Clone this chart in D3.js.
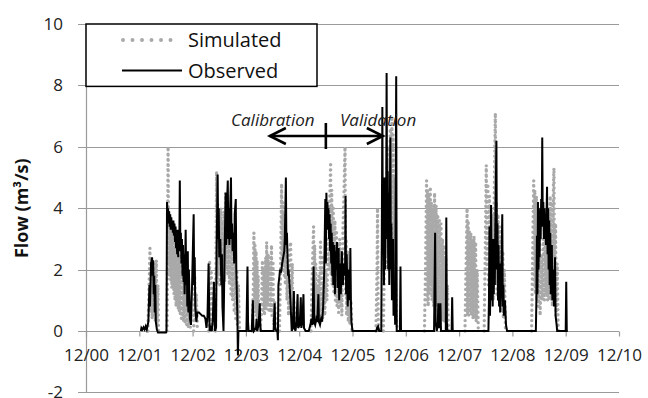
<!DOCTYPE html>
<html>
<head>
<meta charset="utf-8">
<script src="https://cdn.jsdelivr.net/npm/d3@7"></script>
<style>
  html, body { margin: 0; padding: 0; background: #fff; }
  svg { display: block; }
  text { font-family: "Open Sans", "Noto Sans", sans-serif; }
</style>
</head>
<body>
<svg id="chart" width="648" height="398"></svg>
<script>
// ---- data (x: years after 12/00, y: flow m3/s) ----
const tickLabels = ["12/00","12/01","12/02","12/03","12/04","12/05","12/06","12/07","12/08","12/09","12/10"];
const yTicks = [-2, 0, 2, 4, 6, 8, 10];
const seriesNames = ["Simulated", "Observed"];
const splitYear = 4.5;
const periodLabels = ["Calibration", "Validation"];

const simulated = [
  [1.16,0],[1.18,1.2],[1.20,2.7],[1.21,0.6],[1.23,2.1],[1.24,0.4],[1.26,2.3],[1.27,0.5],[1.29,2.2],[1.30,0.3],[1.32,2.3],[1.33,0.2],[1.35,1.5],[1.36,0],[1.37,null],
  [1.52,0],[1.54,6.0],[1.55,2.2],[1.56,3.8],[1.57,1.8],[1.58,3.6],[1.59,1.6],[1.60,3.5],[1.61,1.4],[1.62,3.3],[1.63,1.5],[1.64,3.2],[1.65,1.2],[1.66,3.0],[1.67,1.0],[1.68,3.1],[1.69,0.8],[1.70,2.9],[1.71,0.9],[1.72,2.6],[1.73,0.7],[1.74,2.4],[1.75,0.6],[1.76,2.5],[1.77,0.5],[1.78,2.2],[1.79,0.4],[1.80,2.0],[1.81,0.4],[1.82,1.9],[1.83,0.3],[1.84,1.8],[1.86,0.3],[1.87,1.6],[1.89,0.2],[1.90,1.4],[1.92,0.1],[1.94,0.9],[1.96,0],[1.97,null],
  [2.02,0],[2.04,1.8],[2.05,0.3],[2.07,1.2],[2.09,0],[2.10,null],
  [2.30,0],[2.32,2.3],[2.33,0.2],[2.35,1.9],[2.37,0],[2.38,null],
  [2.43,0],[2.45,5.2],[2.46,1.5],[2.47,4.2],[2.48,1.8],[2.50,3.8],[2.51,1.5],[2.53,4.0],[2.54,1.8],[2.56,3.6],[2.57,1.4],[2.59,3.9],[2.60,1.6],[2.62,4.5],[2.63,2.0],[2.65,4.0],[2.66,1.8],[2.68,3.7],[2.69,1.5],[2.71,3.5],[2.72,1.2],[2.74,3.2],[2.75,1.0],[2.77,2.8],[2.78,0.6],[2.80,2.5],[2.81,0.4],[2.83,2.0],[2.84,0.2],[2.86,1.5],[2.88,0],[2.89,null],
  [3.12,0],[3.14,1.5],[3.15,3.2],[3.16,0.8],[3.17,2.8],[3.18,0.6],[3.19,2.6],[3.20,0.5],[3.21,2.3],[3.22,0.4],[3.23,1.8],[3.24,0.2],[3.26,0],[3.29,0.5],[3.31,2.3],[3.32,0.6],[3.34,2.0],[3.35,0.5],[3.37,2.4],[3.38,0.7],[3.39,2.9],[3.40,0.8],[3.42,2.5],[3.43,0.6],[3.45,2.2],[3.46,0.6],[3.48,2.8],[3.49,0.5],[3.51,2.2],[3.52,0.2],[3.54,1.0],[3.56,0],[3.57,null],
  [3.63,0],[3.65,2.0],[3.67,4.8],[3.68,2.0],[3.69,4.2],[3.70,2.2],[3.71,3.8],[3.72,1.8],[3.73,3.4],[3.74,1.5],[3.76,3.0],[3.77,1.0],[3.79,2.2],[3.80,0.5],[3.82,2.6],[3.84,2.9],[3.85,0.8],[3.87,2.2],[3.88,0.3],[3.90,1.0],[3.92,0],[3.93,null],
  [4.22,0],[4.24,1.5],[4.26,2.8],[4.27,3.4],[4.28,0.8],[4.29,2.8],[4.30,0.5],[4.31,2.2],[4.32,0.3],[4.33,1.5],[4.35,0.3],[4.37,1.8],[4.38,0.5],[4.40,2.9],[4.41,0.7],[4.43,2.4],[4.44,0.4],[4.46,1.6],[4.48,0.5],[4.50,2.0],[4.52,1.0],[4.54,3.0],[4.56,2.0],[4.57,4.0],[4.59,5.5],[4.60,1.8],[4.61,4.6],[4.62,1.5],[4.64,4.0],[4.65,1.2],[4.67,3.6],[4.68,1.0],[4.70,3.2],[4.71,0.8],[4.73,2.8],[4.74,0.6],[4.76,3.0],[4.77,0.8],[4.79,2.6],[4.80,0.5],[4.82,3.2],[4.84,4.5],[4.86,6.0],[4.87,1.2],[4.88,3.0],[4.89,0.5],[4.91,2.6],[4.92,0.3],[4.94,1.8],[4.95,0.2],[4.97,1.0],[4.99,0],[5.00,null],
  [5.44,0],[5.46,2.0],[5.47,4.0],[5.48,0.5],[5.49,0],[5.50,null],
  [5.58,0],[5.60,2.5],[5.62,4.0],[5.63,2.0],[5.65,5.5],[5.66,2.5],[5.68,6.0],[5.69,3.0],[5.71,6.6],[5.72,3.5],[5.74,7.0],[5.75,3.0],[5.76,6.4],[5.77,2.0],[5.78,5.0],[5.79,1.0],[5.80,3.0],[5.82,0.5],[5.84,0],[5.85,null],
  [6.35,0],[6.37,2.0],[6.39,4.9],[6.40,1.0],[6.41,4.6],[6.42,0.8],[6.43,4.4],[6.44,1.2],[6.46,4.7],[6.47,1.5],[6.48,4.2],[6.49,1.0],[6.51,4.0],[6.52,0.8],[6.54,4.5],[6.55,1.2],[6.57,4.1],[6.58,0.8],[6.60,3.8],[6.61,0.6],[6.63,3.6],[6.64,0.5],[6.66,3.5],[6.67,0.4],[6.69,3.0],[6.70,0.3],[6.72,2.8],[6.73,0.3],[6.75,2.4],[6.76,0.2],[6.78,1.5],[6.80,0],[6.81,null],
  [7.11,0],[7.13,2.0],[7.15,4.0],[7.16,0.5],[7.17,3.6],[7.18,0.5],[7.19,3.3],[7.20,0.6],[7.22,3.2],[7.23,0.5],[7.25,3.0],[7.26,0.4],[7.28,3.1],[7.29,0.4],[7.31,2.9],[7.32,0.3],[7.34,2.0],[7.36,0],[7.37,null],
  [7.47,0],[7.49,2.5],[7.51,5.4],[7.52,2.0],[7.54,4.8],[7.55,1.5],[7.57,4.4],[7.58,1.2],[7.60,4.0],[7.61,1.0],[7.63,3.8],[7.64,1.0],[7.66,4.5],[7.68,7.1],[7.69,1.5],[7.70,4.2],[7.71,1.2],[7.73,3.8],[7.74,1.0],[7.76,3.4],[7.77,0.8],[7.79,3.0],[7.80,0.6],[7.82,2.6],[7.83,0.4],[7.85,2.0],[7.87,0],[7.88,null],
  [8.36,0],[8.38,2.5],[8.40,4.9],[8.41,1.5],[8.42,4.6],[8.43,1.2],[8.45,4.4],[8.46,1.0],[8.48,4.0],[8.49,0.8],[8.51,3.5],[8.52,0.5],[8.54,2.5],[8.56,1.0],[8.58,3.0],[8.60,1.0],[8.62,3.5],[8.63,1.2],[8.65,3.8],[8.66,1.0],[8.68,4.0],[8.69,1.0],[8.71,4.4],[8.72,1.0],[8.74,4.2],[8.75,0.8],[8.77,4.8],[8.78,5.3],[8.79,1.0],[8.81,3.5],[8.82,0.5],[8.84,2.2],[8.86,0]
];

const observed = [
  [1.03,0],[1.04,0.1],[1.06,0.05],[1.08,0.12],[1.10,0.05],[1.12,0.15],[1.14,0.05],[1.17,0.3],[1.19,1.5],[1.20,0.8],[1.22,2.2],[1.24,2.4],[1.25,1.8],[1.26,2.3],[1.27,1.2],[1.28,1.8],[1.29,0.6],[1.30,1.5],[1.31,0.3],[1.33,0.05],[1.35,-0.05],[1.50,-0.05],[1.51,0],
  [1.52,4.2],[1.53,3.7],[1.54,4.0],[1.55,3.5],[1.56,3.9],[1.57,3.4],[1.58,3.8],[1.59,3.3],[1.60,3.7],[1.61,3.4],[1.62,3.6],[1.63,3.2],[1.64,3.6],[1.65,3.1],[1.66,3.5],[1.67,2.9],[1.68,3.4],[1.69,2.7],[1.70,3.2],[1.71,2.5],[1.72,3.3],[1.73,2.4],[1.74,3.0],[1.75,2.6],[1.76,4.9],[1.77,2.8],[1.78,3.2],[1.79,2.2],[1.80,3.0],[1.81,1.8],[1.82,2.8],[1.83,1.6],[1.84,2.5],[1.85,1.2],[1.87,3.3],[1.88,1.5],[1.89,2.5],[1.90,0.8],[1.91,2.6],[1.92,0.6],[1.93,2.0],[1.95,0.4],[1.97,0.2],[1.99,1.5],[2.02,3.8],[2.03,1.5],[2.04,2.4],[2.05,0.8],[2.07,0.3],[2.09,0.6],[2.12,0.6],[2.15,0.55],[2.18,0.5],[2.21,0.5],[2.24,0.4],[2.26,0.1],[2.28,0.5],[2.30,2.2],[2.31,0.8],[2.32,0],[2.34,0.1],[2.36,0],[2.38,0.4],[2.40,1.6],[2.41,0.5],[2.42,0],[2.44,0.1],[2.45,2.5],[2.47,5.1],[2.48,3.0],[2.49,4.0],[2.50,2.4],[2.52,3.0],[2.54,1.5],[2.55,2.5],[2.56,0.8],[2.58,0],[2.60,2.5],[2.62,4.5],[2.63,2.8],[2.64,3.8],[2.66,4.9],[2.67,3.0],[2.68,4.0],[2.69,2.8],[2.70,3.6],[2.72,5.0],[2.73,3.0],[2.74,3.5],[2.75,2.6],[2.77,3.2],[2.78,2.2],[2.79,3.8],[2.81,4.3],[2.82,2.0],[2.83,1.2],[2.84,0.5],[2.85,-0.8],[2.86,0],
  [3.01,0],[3.03,2.1],[3.04,0.3],[3.05,0],[3.11,0],[3.13,1.0],[3.14,0.2],[3.15,0],[3.19,0.1],[3.20,0.4],[3.21,0],[3.24,0.2],[3.26,0.9],[3.27,0.2],[3.28,0],[3.52,0],[3.54,0.9],[3.55,0.1],[3.57,0],[3.59,0],[3.60,-0.3],[3.61,1.5],[3.63,1.8],[3.64,2.0],[3.66,1.9],[3.68,2.2],[3.70,2.4],[3.72,2.6],[3.73,3.0],[3.75,5.0],[3.76,2.8],[3.77,3.2],[3.78,2.5],[3.79,1.8],[3.80,2.0],[3.82,1.5],[3.84,0.8],[3.86,0],[3.88,0.1],[3.90,1.3],[3.91,0.1],[3.93,0],[3.95,0.3],[3.97,1.2],[3.98,0.1],[4.01,0.2],[4.03,1.1],[4.04,0.1],[4.06,0.3],[4.08,1.2],[4.09,0.1],[4.12,0],
  [4.18,0],[4.21,0.2],[4.23,0.4],[4.25,0.2],[4.27,2.1],[4.28,0.3],[4.30,0.2],[4.32,0.4],[4.34,0.3],[4.36,1.2],[4.37,0.3],[4.39,0.2],[4.41,0.4],[4.43,0.3],[4.45,0.8],[4.47,2.0],[4.49,4.3],[4.50,2.2],[4.51,4.5],[4.52,3.6],[4.53,4.2],[4.54,3.3],[4.55,4.0],[4.56,3.0],[4.57,3.8],[4.58,2.6],[4.59,3.5],[4.60,2.2],[4.61,3.2],[4.62,1.8],[4.63,2.9],[4.64,1.5],[4.66,2.8],[4.67,1.2],[4.68,2.6],[4.69,2.0],[4.71,2.9],[4.72,1.4],[4.74,2.7],[4.75,1.0],[4.76,2.2],[4.78,1.2],[4.80,2.6],[4.82,1.5],[4.84,2.2],[4.86,1.8],[4.87,4.4],[4.88,1.2],[4.89,2.5],[4.91,0.8],[4.93,2.0],[4.95,1.0],[4.96,2.7],[4.97,1.0],[4.98,0.3],[5.00,0],
  [5.45,0],[5.46,0.1],[5.48,0.15],[5.50,0],[5.54,0],[5.55,3.0],[5.56,7.3],[5.57,2.5],[5.58,4.5],[5.59,1.5],[5.60,5.0],[5.61,2.0],[5.62,4.0],[5.63,3.0],[5.64,8.4],[5.65,3.0],[5.66,5.2],[5.67,2.0],[5.68,4.5],[5.69,1.5],[5.71,6.3],[5.72,2.0],[5.73,3.5],[5.74,1.0],[5.76,3.0],[5.77,0.5],[5.79,1.5],[5.80,0.2],[5.82,8.3],[5.83,0],[5.89,0],[5.90,2.1],[5.91,0],
  [6.53,0],[6.55,3.2],[6.56,0.3],[6.58,0],[6.60,0.2],[6.61,0.9],[6.62,0.1],[6.64,0.2],[6.65,0.9],[6.66,0],[6.75,0],[6.76,3.7],[6.77,0.3],[6.78,0],[6.86,0],[6.87,1.1],[6.88,0],
  [7.55,0],[7.56,1.0],[7.57,3.4],[7.58,0.5],[7.59,2.0],[7.60,4.1],[7.61,1.0],[7.62,2.5],[7.63,0.8],[7.64,3.0],[7.65,1.2],[7.66,2.5],[7.67,1.5],[7.68,3.5],[7.70,6.2],[7.71,2.0],[7.72,3.5],[7.73,1.0],[7.74,2.8],[7.75,0.8],[7.76,2.2],[7.77,0.6],[7.79,1.5],[7.81,3.8],[7.82,0.8],[7.83,1.5],[7.84,0.5],[7.86,1.0],[7.88,0.2],[7.90,0],
  [8.44,0],[8.45,1.0],[8.46,3.1],[8.47,1.2],[8.48,4.2],[8.49,2.0],[8.50,3.5],[8.51,2.4],[8.52,4.0],[8.53,3.0],[8.54,4.3],[8.55,3.5],[8.56,6.3],[8.57,3.4],[8.58,4.2],[8.59,3.0],[8.60,4.0],[8.61,3.2],[8.62,3.8],[8.63,2.8],[8.65,4.7],[8.66,2.5],[8.67,4.0],[8.68,2.0],[8.69,3.6],[8.70,1.5],[8.71,3.2],[8.72,1.2],[8.74,2.8],[8.75,1.0],[8.77,2.0],[8.78,0.8],[8.80,2.4],[8.81,0.5],[8.83,0.2],[8.84,0],[9.00,0],[9.01,1.6],[9.02,0],[9.04,0]
];

// ---- drawing ----
const svg = d3.select("#chart");
const x = d3.scaleLinear().domain([0, 10]).range([86, 619]);
const y = d3.scaleLinear().domain([-2, 10]).range([392.4, 24]);
const gridColor = "#9a9a9a";

// horizontal gridlines
svg.append("g").selectAll("line").data(yTicks).join("line")
  .attr("x1", x(0) - 8).attr("x2", x(10))
  .attr("y1", d => Math.round(y(d)) + 0.5).attr("y2", d => Math.round(y(d)) + 0.5)
  .attr("stroke", gridColor).attr("stroke-width", 1.2);

// vertical axis line
svg.append("line")
  .attr("x1", Math.round(x(0)) + 0.5).attr("x2", Math.round(x(0)) + 0.5)
  .attr("y1", y(10)).attr("y2", y(-2))
  .attr("stroke", gridColor).attr("stroke-width", 1.2);

// y axis labels
const yAxis = svg.append("g").attr("transform", `translate(${x(0)},0)`)
  .call(d3.axisLeft(y).tickValues(yTicks).tickSize(0).tickPadding(23).tickFormat(d => String(d)));
yAxis.select(".domain").remove();
yAxis.selectAll("text").attr("font-size", 17).attr("fill", "#222")
  .style("font-family", '"Open Sans", sans-serif');

// x axis at y=0
const xAxis = svg.append("g").attr("transform", `translate(0,${Math.round(y(0)) + 0.5})`)
  .call(d3.axisBottom(x).tickValues(d3.range(tickLabels.length)).tickFormat((d, i) => tickLabels[i])
    .tickSize(5).tickPadding(12));
xAxis.select(".domain").remove();
xAxis.selectAll("line").attr("stroke", gridColor).attr("stroke-width", 1.2);
xAxis.selectAll("text").attr("font-size", 17).attr("fill", "#222")
  .style("font-family", '"Open Sans", sans-serif');

// y axis title
svg.append("text")
  .attr("transform", `translate(28,${y(4)}) rotate(-90)`)
  .attr("text-anchor", "middle")
  .attr("font-size", 18).attr("font-weight", "bold").attr("fill", "#111")
  .text("Flow (m³/s)");

// series
const line = d3.line().defined(d => d[1] !== null).x(d => x(d[0])).y(d => y(d[1]));

svg.append("path").datum(simulated)
  .attr("d", line).attr("fill", "none")
  .attr("stroke", "#a9a9a9").attr("stroke-width", 3.4)
  .attr("stroke-linecap", "round").attr("stroke-linejoin", "round")
  .attr("stroke-dasharray", "0 5.2");

svg.append("path").datum(observed)
  .attr("d", line).attr("fill", "none")
  .attr("stroke", "#000").attr("stroke-width", 2)
  .attr("stroke-linejoin", "miter");

// legend
const lg = svg.append("g");
lg.append("rect").attr("x", x(0)).attr("y", y(10)).attr("width", 231).attr("height", y(8) - y(10) + 1)
  .attr("fill", "#fff").attr("stroke", "#000").attr("stroke-width", 1.5);
lg.append("line").attr("x1", 123).attr("x2", 180).attr("y1", 40).attr("y2", 40)
  .attr("stroke", "#a9a9a9").attr("stroke-width", 4).attr("stroke-linecap", "round")
  .attr("stroke-dasharray", "0 9.5");
lg.append("line").attr("x1", 122).attr("x2", 182).attr("y1", 70.5).attr("y2", 70.5)
  .attr("stroke", "#000").attr("stroke-width", 2);
lg.selectAll("text").data(seriesNames).join("text")
  .attr("x", 188).attr("y", (d, i) => i === 0 ? 47 : 77.5)
  .attr("font-size", 20).attr("fill", "#111")
  .text(d => d);

// calibration / validation annotation
const ann = svg.append("g").attr("stroke", "#000").attr("stroke-width", 2.6).attr("fill", "none");
const sx = x(splitYear), ay = 136;
ann.append("line").attr("x1", sx - 56).attr("x2", sx + 57).attr("y1", ay).attr("y2", ay);
ann.append("polyline").attr("points", `${sx - 40},${ay - 8} ${sx - 56},${ay} ${sx - 40},${ay + 8}`);
ann.append("polyline").attr("points", `${sx + 41},${ay - 8} ${sx + 57},${ay} ${sx + 41},${ay + 8}`);
ann.append("line").attr("x1", sx).attr("x2", sx).attr("y1", ay - 13).attr("y2", ay + 13);

svg.selectAll("text.period").data(periodLabels).join("text").attr("class", "period")
  .attr("x", (d, i) => i === 0 ? 231 : 340).attr("y", 126)
  .attr("font-size", 17).attr("font-style", "italic").attr("fill", "#222")
  .text(d => d);
</script>
</body>
</html>
